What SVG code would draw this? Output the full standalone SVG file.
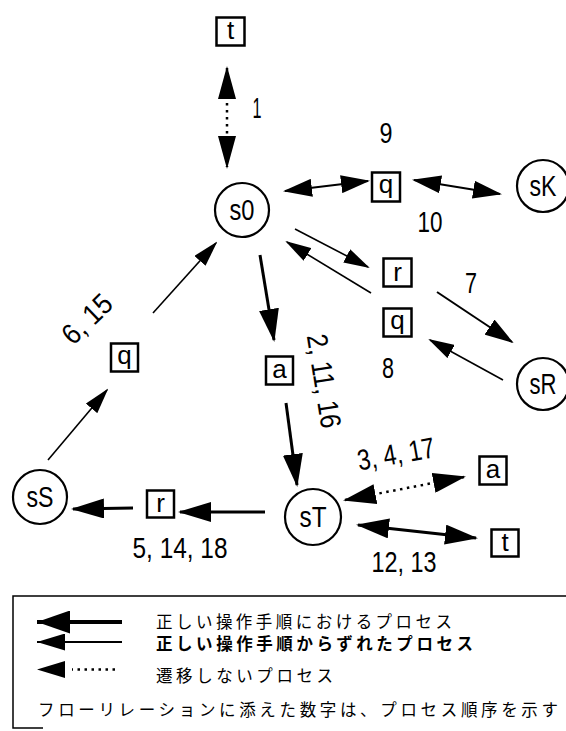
<svg xmlns="http://www.w3.org/2000/svg" width="566" height="731" viewBox="0 0 566 731">
<style>
.st circle{fill:#fff;stroke:#000;stroke-width:2.2}
.bx rect{fill:#fff;stroke:#000;stroke-width:2.5}
.lb{font-family:"Liberation Sans","DejaVu Sans",sans-serif;font-size:29px;fill:#000;text-anchor:middle}
.bl{font-family:"Liberation Sans","DejaVu Sans",sans-serif;font-size:26px;fill:#000;text-anchor:middle}
.num{font-family:"Liberation Sans","DejaVu Sans",sans-serif;font-size:29px;fill:#000;text-anchor:middle}
.jp{font-family:"Noto Sans CJK JP","Noto Sans CJK SC",sans-serif;font-size:16.5px;fill:#000}
.thick{stroke:#000;stroke-width:3;fill:none}
.med{stroke:#000;stroke-width:2;fill:none}
.thin{stroke:#000;stroke-width:1.6;fill:none}
.dot{stroke:#000;stroke-width:2.5;fill:none;stroke-dasharray:2.5 4.5}
</style>
<defs>
<marker id="hL" viewBox="0 0 33 20" refX="31" refY="10" markerWidth="33" markerHeight="20" markerUnits="userSpaceOnUse" orient="auto-start-reverse"><path d="M0,0 L33,10 L0,20 z"/></marker>
<marker id="hD" viewBox="0 0 33 18" refX="31" refY="9" markerWidth="33" markerHeight="18" markerUnits="userSpaceOnUse" orient="auto-start-reverse"><path d="M0,0 L33,9 L0,18 z"/></marker>
<marker id="hM" viewBox="0 0 29 18" refX="27" refY="9" markerWidth="29" markerHeight="18" markerUnits="userSpaceOnUse" orient="auto-start-reverse"><path d="M0,0 L29,9 L0,18 z"/></marker>
<marker id="hS" viewBox="0 0 26 15" refX="24" refY="7.5" markerWidth="26" markerHeight="15" markerUnits="userSpaceOnUse" orient="auto-start-reverse"><path d="M0,0 L26,7.5 L0,15 z"/></marker>
<marker id="hG1" viewBox="0 0 33 23" refX="33" refY="11.5" markerWidth="33" markerHeight="23" markerUnits="userSpaceOnUse" orient="auto-start-reverse"><path d="M0,0 L33,11.5 L0,23 z"/></marker>
<marker id="hG2" viewBox="0 0 28 17" refX="28" refY="8.5" markerWidth="28" markerHeight="17" markerUnits="userSpaceOnUse" orient="auto-start-reverse"><path d="M0,0 L28,8.5 L0,17 z"/></marker>
</defs>

<g id="connectors">
<path class="dot" d="M227,68 L227,167" marker-start="url(#hD)" marker-end="url(#hD)"/>
<path class="med" d="M285,191 L368,181" marker-start="url(#hM)" marker-end="url(#hM)"/>
<path class="med" d="M414,180 L500,194" marker-start="url(#hM)" marker-end="url(#hM)"/>
<path class="thin" d="M295,229 L368,267" marker-end="url(#hS)"/>
<path class="thin" d="M371,293 L287,242" marker-end="url(#hS)"/>
<path class="med" d="M437,292 L512,342" marker-end="url(#hM)"/>
<path class="thin" d="M503,380 L430,340" marker-end="url(#hS)"/>
<path class="thick" d="M260,255 L274,340" marker-end="url(#hL)"/>
<path class="thick" d="M286,403 L297,485" marker-end="url(#hL)"/>
<path class="thick" d="M265,512 L180,512" marker-end="url(#hL)"/>
<path class="thick" d="M133,508 L73,509" marker-end="url(#hL)"/>
<path class="thin" d="M48,460 L107,390" marker-end="url(#hS)"/>
<path class="thin" d="M153,313 L216,243" marker-end="url(#hS)"/>
<path class="dot" d="M345,500 L464,477" marker-start="url(#hL)" marker-end="url(#hL)"/>
<path class="thick" d="M358,525 L476,538" marker-start="url(#hL)" marker-end="url(#hL)"/>
<text class="num" x="257" y="118" textLength="9" lengthAdjust="spacingAndGlyphs">1</text>
<text class="num" x="386" y="143" textLength="13" lengthAdjust="spacingAndGlyphs">9</text>
<text class="num" x="430" y="232" textLength="25" lengthAdjust="spacingAndGlyphs">10</text>
<text class="num" x="471" y="293" textLength="12" lengthAdjust="spacingAndGlyphs">7</text>
<text class="num" x="388" y="378" textLength="12" lengthAdjust="spacingAndGlyphs">8</text>
<text class="num" transform="translate(324,381) rotate(81)" x="0" y="10" textLength="95" lengthAdjust="spacingAndGlyphs">2, 11, 16</text>
<text class="num" transform="translate(87,319) rotate(-44)" x="0" y="10" textLength="58" lengthAdjust="spacingAndGlyphs">6, 15</text>
<text class="num" transform="translate(396,454) rotate(-10)" x="0" y="10" textLength="78" lengthAdjust="spacingAndGlyphs">3, 4, 17</text>
<text class="num" x="404" y="572" textLength="65" lengthAdjust="spacingAndGlyphs">12, 13</text>
<text class="num" x="180" y="558" textLength="95" lengthAdjust="spacingAndGlyphs">5, 14, 18</text>
</g>

<g id="s0" class="st"><circle cx="242" cy="210" r="27"/><text class="lb" x="242" y="220" textLength="25" lengthAdjust="spacingAndGlyphs">s0</text></g>
<g id="sK" class="st"><circle cx="543" cy="186" r="26"/><text class="lb" x="543" y="196" textLength="27" lengthAdjust="spacingAndGlyphs">sK</text></g>
<g id="sR" class="st"><circle cx="543" cy="384" r="26"/><text class="lb" x="543" y="394" textLength="27" lengthAdjust="spacingAndGlyphs">sR</text></g>
<g id="sS" class="st"><circle cx="40" cy="497" r="27"/><text class="lb" x="40" y="507" textLength="27" lengthAdjust="spacingAndGlyphs">sS</text></g>
<g id="sT" class="st"><circle cx="313" cy="517" r="28"/><text class="lb" x="313" y="527" textLength="27" lengthAdjust="spacingAndGlyphs">sT</text></g>

<g id="box_t_top" class="bx"><rect x="216.5" y="17.5" width="28" height="28"/><text class="bl" x="230.5" y="39">t</text></g>
<g id="box_q_top" class="bx"><rect x="372" y="172.5" width="28" height="29"/><text class="bl" x="386" y="193">q</text></g>
<g id="box_r_mid" class="bx"><rect x="383.5" y="258.5" width="28" height="28"/><text class="bl" x="397.5" y="281">r</text></g>
<g id="box_q_mid" class="bx"><rect x="383.5" y="308.5" width="28" height="28"/><text class="bl" x="397.5" y="329">q</text></g>
<g id="box_a_mid" class="bx"><rect x="266" y="356.5" width="27" height="28"/><text class="bl" x="279.5" y="378">a</text></g>
<g id="box_q_left" class="bx"><rect x="111" y="343.5" width="27" height="28"/><text class="bl" x="124.5" y="364">q</text></g>
<g id="box_r_bottom" class="bx"><rect x="147" y="490.5" width="27" height="27"/><text class="bl" x="160.5" y="512">r</text></g>
<g id="box_a_right" class="bx"><rect x="479.5" y="456.5" width="27" height="28"/><text class="bl" x="493" y="478">a</text></g>
<g id="box_t_right" class="bx"><rect x="491.5" y="529.5" width="27" height="27"/><text class="bl" x="505" y="551">t</text></g>

<g id="legend">
<path d="M566,596 H13 V728 H43" fill="none" stroke="#000" stroke-width="1.5"/>
<path d="M122,622 L37,622" stroke="#000" stroke-width="4" fill="none" marker-end="url(#hG1)"/>
<path d="M122,642 L37,642" stroke="#000" stroke-width="2" fill="none" marker-end="url(#hG2)"/>
<path d="M115,669.5 L72,669.5" stroke="#000" stroke-width="2.5" fill="none" stroke-dasharray="2.5 4.5"/>
<path d="M66,669.5 L37,669.5" stroke="none" fill="none" marker-end="url(#hG2)"/>
<text class="jp" x="156" y="628" textLength="296" lengthAdjust="spacing">正しい操作手順におけるプロセス</text>
<text class="jp" x="156" y="650" textLength="317" lengthAdjust="spacing" font-weight="bold">正しい操作手順からずれたプロセス</text>
<text class="jp" x="156" y="682" textLength="177" lengthAdjust="spacing">遷移しないプロセス</text>
<text class="jp" x="38" y="716" textLength="520" lengthAdjust="spacing">フローリレーションに添えた数字は、プロセス順序を示す</text>
</g>
</svg>
